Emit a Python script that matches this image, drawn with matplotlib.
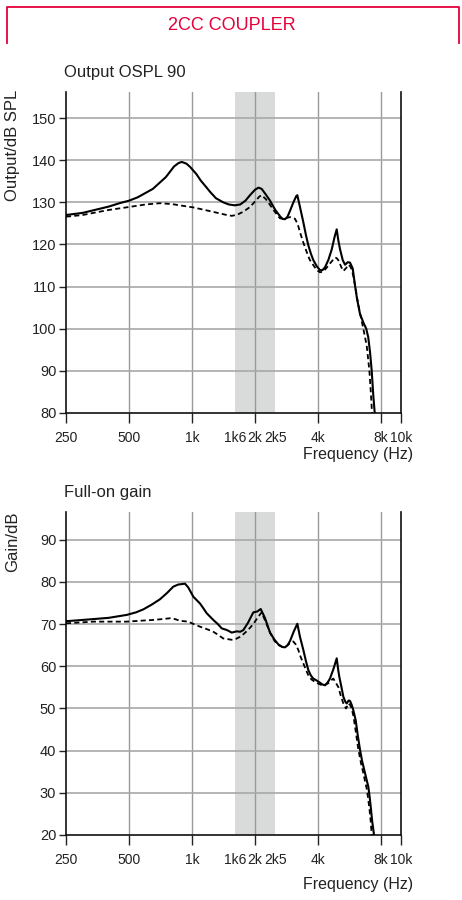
import matplotlib
matplotlib.use("Agg")
import matplotlib.pyplot as plt
from matplotlib.lines import Line2D

# Output OSPL 90 (dB SPL)
ospl_f = [250, 300, 400, 450, 500, 550, 650, 750, 820, 860, 893, 940, 980, 1050, 1100, 1175,
          1220, 1300, 1411, 1500, 1600, 1700, 1800, 1900, 2000, 2080, 2152, 2250, 2359, 2500,
          2634, 2700, 2782, 2860, 2940, 3050, 3150, 3186, 3250, 3403, 3500, 3596, 3700, 3798,
          3950, 4089, 4200, 4320, 4480, 4650, 4800, 4914, 5000, 5095, 5250, 5384, 5550, 5688,
          5860, 6000, 6150, 6350, 6585, 6800, 6950, 7087, 7222, 7352, 7465]
ospl_full = [127.0, 127.5, 129.0, 129.8, 130.4, 131.2, 133.2, 136.0, 138.5, 139.3, 139.6, 139.2,
             138.4, 136.7, 135.2, 133.5, 132.5, 131.0, 130.0, 129.5, 129.3, 129.5, 130.4, 131.8,
             133.0, 133.5, 133.2, 131.9, 130.4, 128.2, 126.7, 126.1, 126.0, 126.6, 128.0, 130.0,
             131.5, 131.7, 129.8, 125.3, 122.3, 119.8, 117.8, 116.3, 114.8, 113.9, 113.9, 114.6,
             116.3, 118.8, 121.8, 123.6, 121.0, 118.9, 116.3, 115.2, 115.8, 115.7, 114.3, 110.5,
             107.0, 103.5, 101.5, 100.0, 98.0, 94.5, 90.0, 84.0, 80.0]

ospl_f2 = [250, 300, 400, 500, 600, 703, 800, 900, 1015, 1150, 1300, 1465, 1550, 1650, 1760,
           1893, 2000, 2100, 2152, 2250, 2359, 2500, 2634, 2780, 2940, 3106, 3200, 3282, 3400,
           3533, 3650, 3798, 3950, 4089, 4240, 4400, 4563, 4822, 4900, 5000, 5150, 5285, 5450,
           5582, 5700, 5795, 5900, 6008, 6150, 6300, 6585, 6835, 7040, 7150, 7246]
ospl_ref = [126.6, 127.0, 128.2, 128.9, 129.5, 129.8, 129.6, 129.2, 128.8, 128.2, 127.6, 127.0,
            126.8, 127.1, 127.8, 128.9, 130.2, 131.4, 131.7, 130.8, 129.4, 127.6, 126.2, 126.2,
            126.5, 126.1, 124.8, 122.9, 120.5, 118.2, 116.4, 115.1, 113.9, 113.4, 113.6, 114.5,
            115.5, 116.9, 116.8, 116.3, 114.8, 113.7, 114.4, 115.2, 114.8, 114.1, 112.5, 110.4,
            107.3, 104.5, 100.0, 96.0, 90.0, 85.0, 80.0]

# Full-on gain (dB)
gain_f = [250, 300, 400, 488, 540, 585, 640, 703, 760, 814, 860, 926, 960, 1015, 1092, 1132,
          1175, 1264, 1330, 1387, 1470, 1548, 1636, 1700, 1759, 1850, 1963, 2050, 2129, 2230,
          2359, 2480, 2585, 2700, 2782, 2860, 2940, 3060, 3186, 3280, 3403, 3500, 3596, 3700,
          3798, 3950, 4089, 4200, 4320, 4450, 4563, 4750, 4914, 5000, 5057, 5180, 5285, 5400,
          5486, 5600, 5688, 5800, 5898, 6055, 6200, 6350, 6500, 6708, 6850, 6955, 7060, 7143,
          7250, 7408]
gain_full = [70.7, 71.0, 71.5, 72.2, 72.8, 73.5, 74.6, 75.9, 77.4, 78.9, 79.4, 79.6, 78.7, 76.5,
             74.9, 73.8, 72.6, 71.0, 70.0, 69.0, 68.6, 68.0, 68.3, 68.2, 68.6, 70.3, 72.8, 73.0,
             73.6, 71.5, 68.0, 66.3, 65.2, 64.6, 64.5, 65.0, 66.0, 68.2, 70.1, 67.0, 63.9, 61.3,
             59.1, 57.8, 57.1, 56.6, 56.1, 55.7, 55.5, 56.2, 57.1, 59.5, 61.9, 59.0, 57.5, 55.0,
             52.8, 51.6, 51.2, 51.9, 51.8, 50.8, 49.6, 47.2, 43.5, 40.2, 37.5, 34.7, 32.8, 31.5,
             29.0, 26.7, 23.5, 20.0]

gain_f2 = [250, 338, 488, 560, 653, 720, 785, 830, 876, 960, 1020, 1092, 1180, 1264, 1330, 1411,
           1548, 1620, 1696, 1759, 1850, 1963, 2060, 2152, 2250, 2359, 2480, 2600, 2700, 2782,
           2860, 2940, 3048, 3130, 3220, 3300, 3403, 3500, 3596, 3720, 3869, 4050, 4240, 4480,
           4600, 4733, 4850, 5000, 5140, 5285, 5443, 5520, 5582, 5700, 5795, 5900, 6000, 6120,
           6250, 6420, 6585, 6700, 6835, 6950, 7050, 7150, 7222]
gain_ref = [70.2, 70.6, 70.6, 70.8, 71.0, 71.2, 71.4, 71.2, 70.8, 70.6, 70.0, 69.4, 68.8, 68.2,
            67.5, 66.6, 66.3, 66.5, 67.0, 67.6, 68.6, 70.0, 71.6, 72.8, 70.5, 68.0, 66.0, 65.0,
            64.6, 64.5, 65.0, 65.5, 65.9, 65.2, 63.9, 62.3, 60.7, 59.2, 57.9, 56.9, 56.3, 55.8,
            55.4, 56.0, 56.6, 57.1, 56.2, 55.1, 53.0, 51.2, 50.0, 50.6, 51.2, 50.8, 50.0, 48.3,
            46.0, 43.0, 40.0, 37.0, 34.7, 32.9, 31.0, 28.5, 26.0, 23.0, 20.0]

xtick_vals = [250, 500, 1000, 1600, 2000, 2500, 4000, 8000, 10000]
xtick_text = ["250", "500", "1k", "1k6", "2k", "2k5", "4k", "8k", "10k"]
grid_x = [500, 1000, 2000, 4000, 8000]

red = "#e4003b"
txt = "#222222"
font = ["Liberation Sans", "DejaVu Sans"]

fig = plt.figure(figsize=(4.62, 9.0), dpi=100)

# header box
fig.add_artist(Line2D([7/462, 7/462, 459/462, 459/462], [1-43/900, 1-7/900, 1-7/900, 1-43/900],
                      color=red, lw=1.3, transform=fig.transFigure))
fig.text(232/462, 1-25/900, "2CC COUPLER", color=red, fontsize=13, ha="center", va="center",
         family=font)


def panel(rect, ylo, yhi, yticks, f1, y1, f2, y2, title, ylabel, title_y, ylab_y):
    ax = fig.add_axes(rect)
    ax.set_xscale("log")
    ax.set_xlim(250, 10000)
    ax.set_ylim(ylo, yhi)
    ax.axvspan(1600, 2500, color="#d9dada", lw=0, zorder=0)
    for g in grid_x:
        ax.axvline(g, color="#999999", lw=1.0, zorder=1)
    for t in yticks[1:]:
        ax.axhline(t, color="#a8a8a8", lw=1.2, zorder=1)
    ax.plot(f1, y1, color="black", lw=1.5, zorder=3, solid_joinstyle="round")
    ax.plot(f2, y2, color="black", lw=1.3, ls=(0, (2.8, 1.8)), zorder=3)
    ax.spines["top"].set_visible(False)
    for s in ["left", "right", "bottom"]:
        ax.spines[s].set_linewidth(1.2)
        ax.spines[s].set_color("#111111")
    ax.set_xticks(xtick_vals)
    ax.set_xticklabels(xtick_text)
    ax.xaxis.set_minor_locator(matplotlib.ticker.NullLocator())
    ax.set_yticks(yticks)
    ax.tick_params(axis="x", length=7, width=1.0, pad=6, labelsize=10, colors=txt)
    ax.tick_params(axis="y", length=5, width=1.0, pad=2, labelsize=10.5, colors=txt)
    for lab in ax.get_xticklabels() + ax.get_yticklabels():
        lab.set_family(font)
    ticks = ax.xaxis.get_major_ticks()
    ticks[3].tick1line.set_visible(False)
    ticks[5].tick1line.set_visible(False)
    fig.text(64/462, 1-title_y/900, title, fontsize=12, color=txt, ha="left", va="center",
             family=font)
    fig.text(13/462, 1-ylab_y/900, ylabel, fontsize=12, color=txt, rotation=90,
             ha="center", va="top", family=font)
    return ax


w = 335.3/462
panel([66/462, 1-413/900, w, 321/900], 80, 156.2, [80, 90, 100, 110, 120, 130, 140, 150],
      ospl_f, ospl_full, ospl_f2, ospl_ref, "Output OSPL 90", "Output/dB SPL", 73, 90)
fig.text(413/462, 1-455/900, "Frequency (Hz)", fontsize=11.5, color=txt, ha="right",
         va="center", family=font)

panel([66/462, 1-835/900, w, 323/900], 20, 96.6, [20, 30, 40, 50, 60, 70, 80, 90],
      gain_f, gain_full, gain_f2, gain_ref, "Full-on gain", "Gain/dB", 493, 512)
fig.text(413/462, 1-884/900, "Frequency (Hz)", fontsize=11.5, color=txt, ha="right",
         va="center", family=font)

fig.savefig("out.png", dpi=100)
